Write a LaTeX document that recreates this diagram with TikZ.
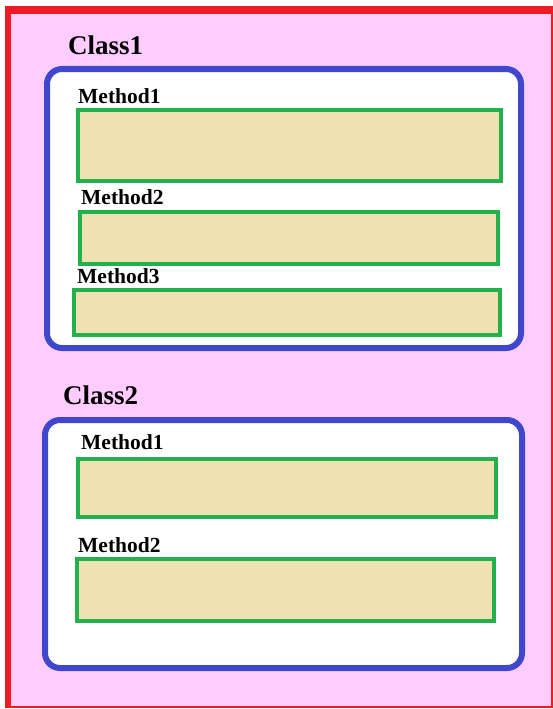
\documentclass[tikz,border=0pt]{standalone}
\usepackage{fontspec}
\setmainfont{Liberation Serif}
\usetikzlibrary{calc}

\definecolor{framered}{RGB}{237,28,36}
\definecolor{bgpink}{RGB}{255,204,255}
\definecolor{classblue}{RGB}{63,72,204}
\definecolor{methodgreen}{RGB}{34,177,76}
\definecolor{methodtan}{RGB}{239,225,178}

\tikzset{
	classbox/.style={line width=6pt, color=classblue, fill=white, rounded corners=15pt},
	methodbox/.style={line width=3.5pt, color=methodgreen, fill=methodtan},
	classlabel/.style={anchor=base west, inner sep=0pt, font=\bfseries\fontsize{27}{30}\selectfont},
	methodlabel/.style={anchor=base west, inner sep=0pt, font=\bfseries\fontsize{21.5}{24}\selectfont}
}

\begin{document}
\begin{tikzpicture}[x=1pt, y=-1pt]
		%%%%% START %%%%%
		\useasboundingbox (0, 0) rectangle (553, 709);
		
		% page
		\fill[bgpink] (5, 6) rectangle (553, 708);
		\draw[line width=2pt, color=framered] (552, 10) -- (552, 707) -- (8, 707);
		\fill[framered] (5, 6) rectangle (553, 14);
		\fill[framered] (5, 6) rectangle (11, 708);
		
		% first class
		\node[classlabel] (class1) at (68, 55) {Class1};
		\draw[classbox] (47, 69) rectangle (521, 348);
		
		\node[methodlabel] (c1m1) at (78, 103) {Method1};
		\draw[methodbox] (78, 110) rectangle (501, 181);
		
		\node[methodlabel] (c1m2) at (81, 204) {Method2};
		\draw[methodbox] (80, 212) rectangle (498, 264);
		
		\node[methodlabel] (c1m3) at (77, 283) {Method3};
		\draw[methodbox] (74, 290) rectangle (500, 335);
		
		% second class
		\node[classlabel] (class2) at (63, 404) {Class2};
		\draw[classbox] (45, 420) rectangle (522, 668);
		
		\node[methodlabel] (c2m1) at (81, 449) {Method1};
		\draw[methodbox] (78, 459) rectangle (496, 517);
		
		\node[methodlabel] (c2m2) at (78, 552) {Method2};
		\draw[methodbox] (77, 559) rectangle (494, 621);
		
		%%%%% END %%%%%
	\end{tikzpicture}
\end{document}
